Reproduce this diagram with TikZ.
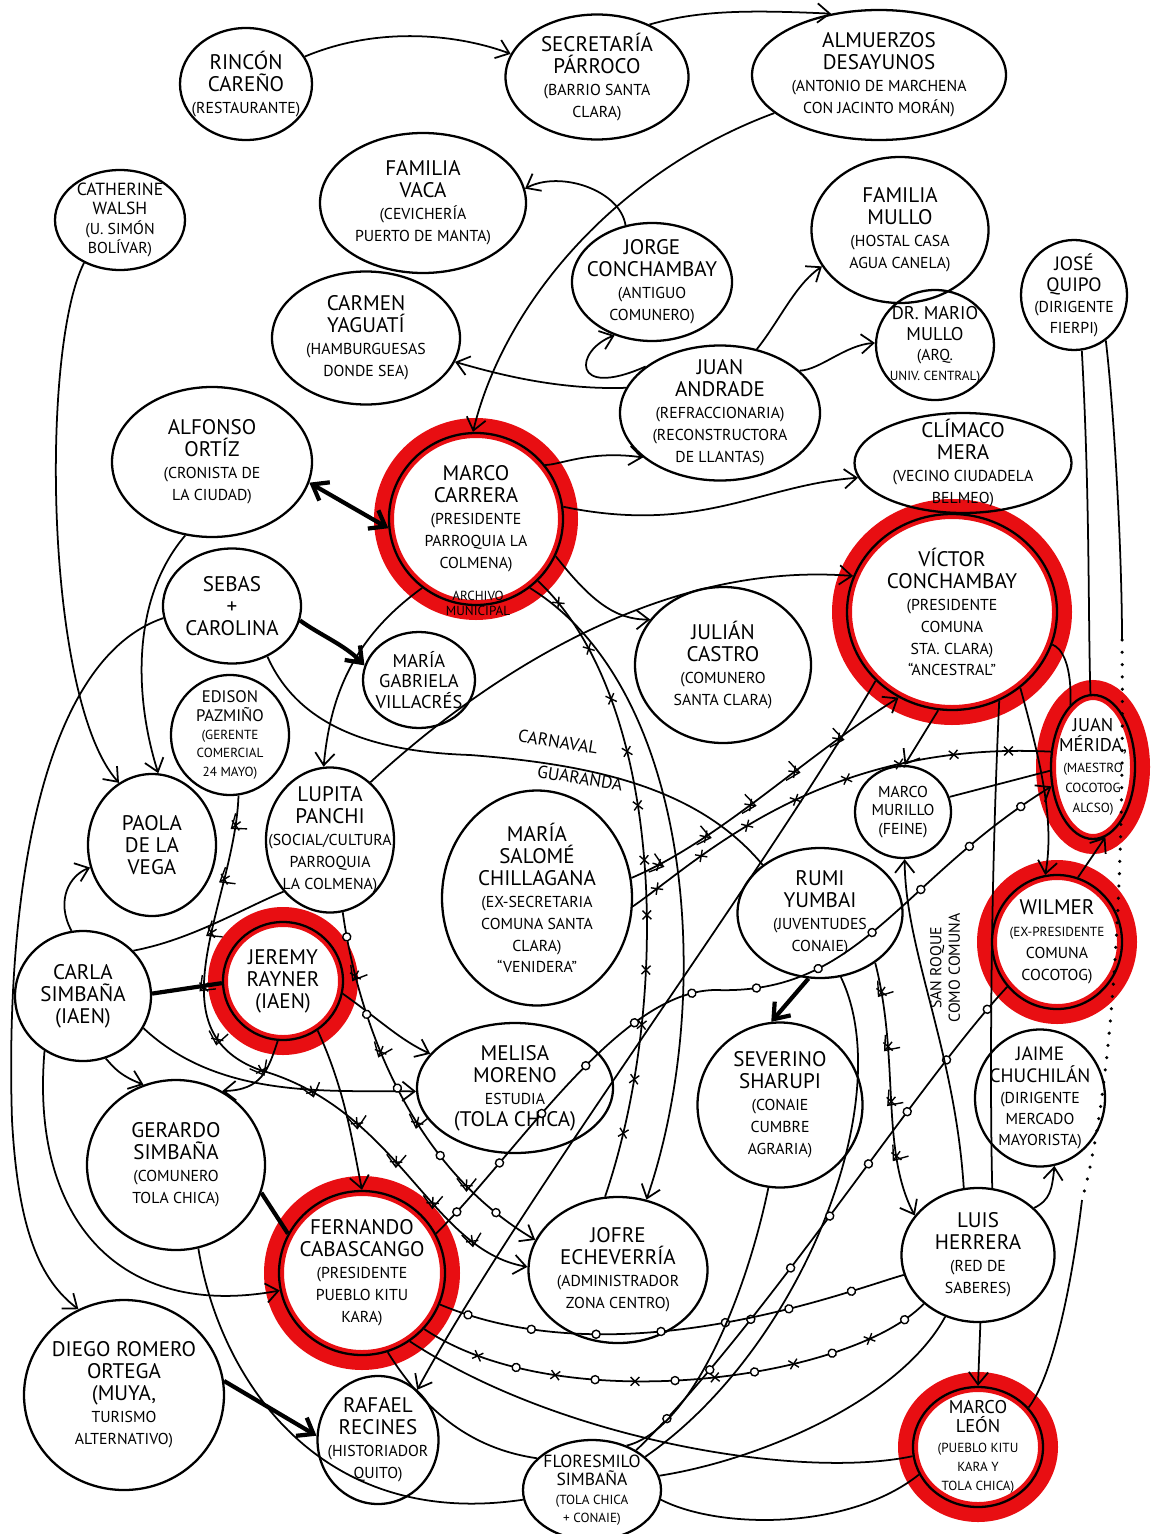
\documentclass[tikz,border=0pt]{standalone}
\usepackage{fontspec}
\setmainfont{PT Sans}
\usetikzlibrary{shapes.geometric, arrows.meta, decorations.markings, backgrounds}

\definecolor{markerred}{RGB}{232,14,18}
\newcommand{\pdet}[1]{{\fontsize{9}{10}\selectfont #1}}
\newcommand{\pdsm}[1]{{\fontsize{7.5}{9}\selectfont #1}}

\tikzset{
  person/.style={ellipse, draw, line width=1.3pt, align=center,
    inner xsep=-12pt, inner ysep=-6pt, font=\fontsize{12}{12.5}\selectfont},
  sz/.style 2 args={minimum width=#1*0.02cm, minimum height=#2*0.02cm},
  link/.style={line width=1pt, -{Straight Barb[length=7pt,width=11pt]}},
  plain/.style={line width=1pt},
  heavy/.style={line width=2.4pt},
  heavylink/.style={heavy, -{Straight Barb[length=8pt,width=12pt]}},
  twoway/.style={heavy, {Straight Barb[length=8pt,width=12pt]}-{Straight Barb[length=8pt,width=12pt]}},
  dots/.style={line width=2pt, line cap=round, dash pattern=on 0pt off 7pt},
  ring/.style={draw=markerred, line width=0.4cm},
  crossmarks/.style={postaction={decorate}, decoration={markings,
    mark=between positions 0.6cm and -0.6cm step 1.1cm with
      {\draw[line width=0.8pt] (-2.5pt,-2.5pt)--(2.5pt,2.5pt) (-2.5pt,2.5pt)--(2.5pt,-2.5pt);}}},
  ringmarks/.style={postaction={decorate}, decoration={markings,
    mark=between positions 0.6cm and -0.6cm step 1.3cm with
      {\draw[line width=0.8pt, fill=white] (0,0) circle (2.3pt);}}},
  mixmarks/.style={postaction={decorate}, decoration={markings,
    mark=between positions 0.5cm and -0.5cm step 1.6cm with
      {\draw[line width=0.8pt, fill=white] (0,0) circle (2.3pt);},
    mark=between positions 1.3cm and -0.5cm step 1.6cm with
      {\draw[line width=0.8pt] (-2.5pt,-2.5pt)--(2.5pt,2.5pt) (-2.5pt,2.5pt)--(2.5pt,-2.5pt);}}},
}

\begin{document}
\begin{tikzpicture}[x=0.02cm, y=-0.02cm]
\useasboundingbox (0,0) rectangle (1153,1534);

% people
\node[person, sz={132}{112}] (rincon) at (246,84) {RINCÓN\\CAREÑO\\\pdet{(RESTAURANTE)}};
\node[person, sz={183}{125}] (secretaria) at (597,77) {SECRETARÍA\\PÁRROCO\\\pdet{(BARRIO SANTA}\\\pdet{CLARA)}};
\node[person, sz={254}{130}] (almuerzos) at (879,75) {ALMUERZOS\\DESAYUNOS\\\pdet{(ANTONIO DE MARCHENA}\\\pdet{CON JACINTO MORÁN)}};
\node[person, sz={130}{100}, font=\fontsize{10}{11}\selectfont] (catherine) at (120,220) {CATHERINE\\WALSH\\\pdet{(U. SIMÓN}\\\pdet{BOLÍVAR)}};
\node[person, sz={206}{140}] (vaca) at (423,203) {FAMILIA\\VACA\\\pdet{(CEVICHERÍA}\\\pdet{PUERTO DE MANTA)}};
\node[person, sz={160}{118}] (jorge) at (652,282) {JORGE\\CONCHAMBAY\\\pdet{(ANTIGUO}\\\pdet{COMUNERO)}};
\node[person, sz={177}{146}] (fammullo) at (900,230) {FAMILIA\\MULLO\\\pdet{(HOSTAL CASA}\\\pdet{AGUA CANELA)}};
\node[person, sz={118}{110}, font=\fontsize{10.5}{11.5}\selectfont] (mariomullo) at (935,345) {DR. MARIO\\MULLO\\\pdet{(ARQ.}\\\pdsm{UNIV. CENTRAL)}};
\node[person, sz={106}{110}, font=\fontsize{11}{12}\selectfont] (quipo) at (1074,295) {JOSÉ\\QUIPO\\\pdet{(DIRIGENTE}\\\pdet{FIERPI)}};
\node[person, sz={188}{133}] (carmen) at (366,338) {CARMEN\\YAGUATÍ\\\pdet{(HAMBURGUESAS}\\\pdet{DONDE SEA)}};
\node[person, sz={200}{135}] (andrade) at (720,413) {JUAN\\ANDRADE\\\pdet{(REFRACCIONARIA)}\\\pdet{(RECONSTRUCTORA}\\\pdet{DE LLANTAS)}};
\node[person, sz={200}{150}] (alfonso) at (212,462) {ALFONSO\\ORTÍZ\\\pdet{(CRONISTA DE}\\\pdet{LA CIUDAD)}};
\node[person, sz={174}{172}] (carrera) at (476,519) {MARCO\\CARRERA\\\pdet{(PRESIDENTE}\\\pdet{PARROQUIA LA}\\\pdet{COLMENA)}};
\node[font=\fontsize{7.5}{8.5}\selectfont, align=center] (archivo) at (478,603) {ARCHIVO\\MUNICIPAL};
\node[person, sz={217}{100}] (climaco) at (963,463) {CLÍMACO\\MERA\\\pdet{(VECINO CIUDADELA}\\\pdet{BELMEO)}};
\node[person, sz={210}{196}] (victor) at (952,612) {VÍCTOR\\CONCHAMBAY\\\pdet{(PRESIDENTE}\\\pdet{COMUNA}\\\pdet{STA. CLARA)}\\\pdet{“ANCESTRAL”}};
\node[person, sz={138}{115}] (sebas) at (232,606) {SEBAS\\+\\CAROLINA};
\node[person, sz={112}{96}, font=\fontsize{10.5}{11.5}\selectfont] (gabriela) at (419,680) {MARÍA\\GABRIELA\\VILLACRÉS};
\node[person, sz={176}{156}] (julian) at (723,665) {JULIÁN\\CASTRO\\\pdet{(COMUNERO}\\\pdet{SANTA CLARA)}};
\node[person, sz={118}{120}, font=\fontsize{9.5}{10.5}\selectfont] (edison) at (230,735) {EDISON\\PAZMIÑO\\\pdsm{(GERENTE}\\\pdsm{COMERCIAL}\\\pdsm{24 MAYO)}};
\node[person, sz={128}{142}] (paola) at (152,845) {PAOLA\\DE LA\\VEGA};
\node[person, sz={128}{145}] (lupita) at (330,840) {LUPITA\\PANCHI\\\pdet{(SOCIAL/CULTURA}\\\pdet{PARROQUIA}\\\pdet{LA COLMENA)}};
\node[person, sz={190}{215}] (salome) at (537,898) {MARÍA\\SALOMÉ\\CHILLAGANA\\\pdet{(EX-SECRETARIA}\\\pdet{COMUNA SANTA}\\\pdet{CLARA)}\\\pdet{“VENIDERA”}};
\node[person, sz={96}{92}, font=\fontsize{9}{10.5}\selectfont] (murillo) at (903,812) {MARCO\\MURILLO\\(FEINE)};
\node[person, sz={84}{144}, font=\fontsize{10.5}{11.5}\selectfont] (merida) at (1093,767) {JUAN\\MÉRIDA,\\\pdsm{(MAESTRO}\\\pdsm{COCOTOG}\\\pdsm{ALCSO)}};
\node[person, sz={165}{130}] (rumi) at (820,913) {RUMI\\YUMBAI\\\pdet{(JUVENTUDES}\\\pdet{CONAIE)}};
\node[person, sz={130}{134}] (wilmer) at (1057,942) {WILMER\\\pdsm{(EX-PRESIDENTE}\\\pdet{COMUNA}\\\pdet{COCOTOG)}};
\node[person, sz={136}{130}] (carla) at (83,996) {CARLA\\SIMBAÑA\\(IAEN)};
\node[person, sz={120}{118}] (jeremy) at (283,981) {JEREMY\\RAYNER\\(IAEN)};
\node[person, sz={196}{130}] (melisa) at (515,1088) {MELISA\\MORENO\\\pdet{ESTUDIA}\\(TOLA CHICA)};
\node[person, sz={165}{165}] (severino) at (780,1105) {SEVERINO\\SHARUPI\\\pdet{(CONAIE}\\\pdet{CUMBRE}\\\pdet{AGRARIA)}};
\node[person, sz={130}{137}, font=\fontsize{11}{12}\selectfont] (jaime) at (1040,1098) {JAIME\\CHUCHILÁN\\\pdet{(DIRIGENTE}\\\pdet{MERCADO}\\\pdet{MAYORISTA)}};
\node[person, sz={178}{170}] (gerardo) at (176,1165) {GERARDO\\SIMBAÑA\\\pdet{(COMUNERO}\\\pdet{TOLA CHICA)}};
\node[person, sz={166}{164}] (fernando) at (362,1273) {FERNANDO\\CABASCANGO\\\pdet{(PRESIDENTE}\\\pdet{PUEBLO KITU}\\\pdet{KARA)}};
\node[person, sz={179}{146}] (jofre) at (618,1270) {JOFRE\\ECHEVERRÍA\\\pdet{(ADMINISTRADOR}\\\pdet{ZONA CENTRO)}};
\node[person, sz={153}{134}] (luis) at (978,1255) {LUIS\\HERRERA\\\pdet{(RED DE}\\\pdet{SABERES)}};
\node[person, sz={200}{190}] (diego) at (124,1395) {DIEGO ROMERO\\ORTEGA\\(MUYA,\\\pdet{TURISMO}\\\pdet{ALTERNATIVO)}};
\node[person, sz={121}{128}] (rafael) at (378,1440) {RAFAEL\\RECINES\\\pdet{(HISTORIADOR}\\\pdet{QUITO)}};
\node[person, sz={138}{100}, font=\fontsize{10}{10.5}\selectfont] (floresmilo) at (592,1490) {FLORESMILO\\SIMBAÑA\\\pdsm{(TOLA CHICA}\\\pdsm{+ CONAIE)}};
\node[person, sz={130}{120}, font=\fontsize{10.5}{11}\selectfont] (marcoleon) at (978,1447) {MARCO\\LEÓN\\\pdsm{(PUEBLO KITU}\\\pdsm{KARA Y}\\\pdsm{TOLA CHICA)}};

% notes on lines
\node[font=\fontsize{10}{11}\selectfont, rotate=-9] (carnaval) at (558,742) {CARNAVAL};
\node[font=\fontsize{10}{11}\selectfont, rotate=-9] (guaranda) at (580,778) {GUARANDA};
\node[font=\fontsize{9}{10.5}\selectfont, align=center, rotate=90] (sanroque) at (945,968) {SAN ROQUE\\COMO COMUNA};
\coordinate (dotA) at (1122,640);
\coordinate (dotB) at (1082,1200);

% top
\draw[link] (rincon.25) .. controls (380,25) and (460,35) .. (secretaria.165);
\draw[link] (secretaria.45) .. controls (700,10) and (750,10) .. (almuerzos.128);
\draw[link] (almuerzos.200) .. controls (620,170) and (505,300) .. (carrera.92);
\draw[link] (jorge.115) .. controls (620,190) and (560,170) .. (vaca.8);
\draw[link] (andrade.165) .. controls (560,390) and (500,375) .. (carmen.-15);
\draw[link] (andrade.148) .. controls (570,400) and (575,350) .. (jorge.235);
\draw[link] (andrade.60) .. controls (780,320) and (795,285) .. (fammullo.205);
\draw[link] (andrade.28) .. controls (820,370) and (845,345) .. (mariomullo.178);
\draw[link] (carrera.38) .. controls (560,465) and (590,450) .. (andrade.210);
\draw[link] (carrera.8) .. controls (700,535) and (760,485) .. (climaco.188);
\draw[twoway] (alfonso.-12) -- (carrera.186);
\draw[link] (carrera.-25) .. controls (590,600) and (615,620) .. (julian.148);
\draw[link] (carrera.232) .. controls (350,640) and (330,700) .. (lupita.95);
\draw[link] (lupita.55) .. controls (470,690) and (650,560) .. (victor.160);
\draw[plain, crossmarks] (carrera.-45) .. controls (665,700) and (672,1000) .. (jofre.100);
\draw[link] (carrera.-52) .. controls (695,690) and (715,1000) .. (jofre.68);

% left
\draw[link] (catherine.230) .. controls (40,350) and (45,700) .. (paola.118);
\draw[link] (alfonso.250) .. controls (130,600) and (135,700) .. (paola.85);
\draw[heavylink] (sebas.-12) .. controls (320,635) and (345,645) .. (gabriela.165);
\draw[link] (sebas.190) .. controls (40,660) and (5,900) .. (12,1120) .. controls (18,1230) and (40,1280) .. (diego.118);
\draw[plain] (sebas.-55) .. controls (300,730) and (380,752) .. (470,755) .. controls (600,765) and (700,790) .. (rumi.140);
\draw[link, crossmarks] (edison.-82) .. controls (235,900) and (150,1030) .. (260,1070) .. controls (400,1110) and (430,1250) .. (jofre.178);
\draw[link] (carla.100) .. controls (55,900) and (70,875) .. (paola.200);
\draw[heavy] (carla.2) -- (jeremy.182);
\draw[link] (carla.-70) .. controls (112,1065) and (118,1075) .. (gerardo.112);
\draw[link] (carla.-28) .. controls (220,1100) and (330,1090) .. (melisa.182);
\draw[link] (carla.235) .. controls (30,1220) and (120,1320) .. (fernando.192);
\draw[plain] (carla.42) .. controls (190,940) and (240,910) .. (lupita.228);
\draw[link] (jeremy.-95) .. controls (268,1070) and (262,1090) .. (gerardo.58);
\draw[link] (jeremy.-55) .. controls (345,1090) and (352,1140) .. (fernando.90);
\draw[link] (jeremy.-12) .. controls (380,1020) and (400,1040) .. (melisa.158);
\draw[heavy] (gerardo.-18) -- (fernando.152);
\draw[plain] (gerardo.-75) .. controls (220,1380) and (320,1530) .. (floresmilo.188);
\draw[heavylink] (diego.8) -- (rafael.176);
\draw[link, mixmarks] (lupita.-80) .. controls (355,1000) and (400,1160) .. (jofre.160);

% middle and right
\draw[link] (victor.222) .. controls (760,880) and (520,1200) .. (rafael.52);
\draw[link, crossmarks] (salome.12) .. controls (720,840) and (800,760) .. (victor.238);
\draw[plain, crossmarks] (salome.-5) .. controls (700,860) and (820,740) .. (merida.160);
\draw[link] (victor.-98) -- (murillo.88);
\draw[plain] (victor.-18) .. controls (1062,648) and (1072,665) .. (merida.110);
\draw[link] (victor.-48) .. controls (1040,760) and (1055,820) .. (wilmer.100);
\draw[link] (wilmer.72) -- (merida.-80);
\draw[plain] (murillo.18) -- (merida.185);
\draw[plain] (quipo.-82) .. controls (1090,500) and (1088,620) .. (merida.92);
\draw[plain] (quipo.-55) .. controls (1115,420) and (1122,560) .. (dotA);
\draw[dots] (dotA) .. controls (1125,900) and (1110,1100) .. (dotB);
\draw[plain] (dotB) .. controls (1070,1300) and (1050,1380) .. (marcoleon.38);
\draw[heavylink] (rumi.-100) -- (severino.96);
\draw[link, crossmarks] (rumi.-42) .. controls (900,1060) and (880,1150) .. (luis.148);
\draw[plain] (rumi.-72) .. controls (900,1100) and (800,1350) .. (floresmilo.32);
\draw[plain, ringmarks] (wilmer.222) .. controls (920,1080) and (760,1330) .. (floresmilo.42);
\draw[link, ringmarks] (fernando.28) .. controls (520,1150) and (620,990) .. (716,990) .. controls (860,995) and (900,880) .. (merida.205);

% bottom
\draw[link] (luis.-88) -- (marcoleon.90);
\draw[link] (luis.40) .. controls (1050,1200) and (1052,1190) .. (jaime.-78);
\draw[link] (luis.102) .. controls (955,1050) and (905,950) .. (murillo.-88);
\draw[plain] (victor.-62) .. controls (990,900) and (990,1100) .. (luis.78);
\draw[plain, mixmarks] (luis.222) .. controls (850,1380) and (560,1420) .. (fernando.-42);
\draw[plain, ringmarks] (fernando.-22) .. controls (620,1380) and (850,1290) .. (luis.195);
\draw[plain] (fernando.-55) .. controls (560,1440) and (800,1480) .. (marcoleon.188);
\draw[plain] (marcoleon.205) .. controls (850,1530) and (720,1530) .. (floresmilo.-8);
\draw[plain] (luis.-118) .. controls (900,1400) and (760,1460) .. (floresmilo.12);
\draw[plain] (severino.-98) .. controls (745,1300) and (690,1430) .. (floresmilo.52);
\draw[plain] (fernando.-72) .. controls (430,1420) and (480,1450) .. (floresmilo.150);

% red marker rings
\begin{scope}[on background layer]
  \fill[white] (0,0) rectangle (1153,1534);
  \foreach \n/\rx/\ry in {carrera/92/91, victor/110/103, merida/47/77, wilmer/70/72,
      jeremy/65/64, fernando/88/87, marcoleon/70/65}
    \draw[ring] (\n.center) ellipse [x radius=\rx*0.02cm, y radius=\ry*0.02cm];
\end{scope}
\end{tikzpicture}
\end{document}
